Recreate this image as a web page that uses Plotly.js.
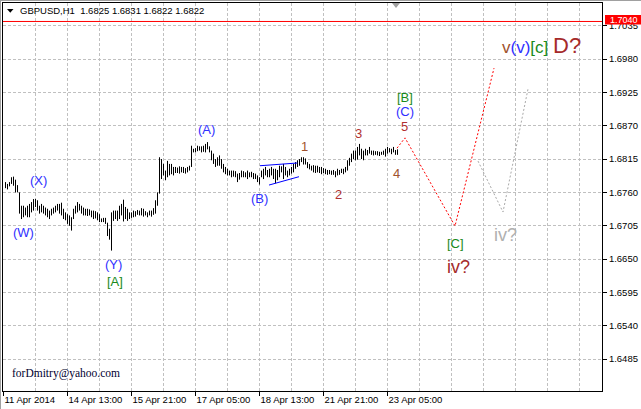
<!DOCTYPE html>
<html><head><meta charset="utf-8">
<script src="https://cdn.plot.ly/plotly-3.0.1.min.js"></script>
<style>html,body{margin:0;padding:0;background:#fff;overflow:hidden}#chart{width:641px;height:409px}</style>
</head><body><div id="chart"></div>
<script>
// ---- data (bar index = hourly bar counted from 11 Apr 2014 05:00, weekends skipped) ----
const firstBar = 1;
const barHigh = [
1.6777,1.6774,1.6777,1.6785,1.6786,1.6781,1.6772,1.6760,1.6738,1.6738,
1.6735,1.6738,1.6741,1.6744,1.6749,1.6749,1.6747,1.6738,1.6741,1.6738,
1.6735,1.6733,1.6730,1.6733,1.6735,1.6738,1.6741,1.6741,1.6743,1.6733,
1.6727,1.6724,1.6722,1.6719,1.6733,1.6738,1.6744,1.6741,1.6738,1.6735,
1.6733,1.6733,1.6732,1.6730,1.6730,1.6729,1.6727,1.6724,1.6717,1.6718,
1.6718,1.6710,1.6700,1.6727,1.6730,1.6730,1.6730,1.6738,1.6741,1.6748,
1.6736,1.6733,1.6727,1.6727,1.6730,1.6729,1.6731,1.6730,1.6734,1.6733,
1.6729,1.6727,1.6730,1.6730,1.6734,1.6747,1.6760,1.6818,1.6815,1.6807,
1.6796,1.6812,1.6807,1.6807,1.6802,1.6802,1.6801,1.6803,1.6802,1.6802,
1.6800,1.6802,1.6804,1.6837,1.6832,1.6833,1.6837,1.6836,1.6836,1.6837,
1.6840,1.6843,1.6836,1.6829,1.6824,1.6815,1.6818,1.6821,1.6815,1.6807,
1.6802,1.6799,1.6796,1.6796,1.6796,1.6795,1.6791,1.6792,1.6796,1.6795,
1.6793,1.6796,1.6793,1.6794,1.6792,1.6791,1.6788,1.6785,1.6796,1.6799,
1.6802,1.6797,1.6799,1.6802,1.6799,1.6799,1.6797,1.6804,1.6803,1.6807,
1.6802,1.6796,1.6799,1.6802,1.6807,1.6810,1.6813,1.6815,1.6818,1.6818,
1.6816,1.6810,1.6807,1.6804,1.6805,1.6804,1.6804,1.6802,1.6802,1.6800,
1.6799,1.6797,1.6797,1.6796,1.6797,1.6795,1.6799,1.6797,1.6799,1.6799,
1.6802,1.6813,1.6817,1.6824,1.6829,1.6829,1.6835,1.6840,1.6832,1.6829,
1.6832,1.6830,1.6835,1.6829,1.6829,1.6828,1.6828,1.6827,1.6827,1.6829,
1.6832,1.6835,1.6833,1.6832,1.6835,1.6830,1.6831];
const barLow = [
1.6767,1.6765,1.6770,1.6774,1.6771,1.6760,1.6760,1.6725,1.6716,1.6719,
1.6722,1.6719,1.6719,1.6727,1.6730,1.6736,1.6730,1.6725,1.6727,1.6725,
1.6722,1.6719,1.6716,1.6722,1.6725,1.6727,1.6730,1.6725,1.6722,1.6716,
1.6714,1.6708,1.6705,1.6697,1.6716,1.6725,1.6727,1.6730,1.6725,1.6722,
1.6722,1.6721,1.6722,1.6719,1.6716,1.6717,1.6714,1.6711,1.6711,1.6711,
1.6708,1.6688,1.6682,1.6664,1.6713,1.6716,1.6713,1.6716,1.6722,1.6712,
1.6716,1.6713,1.6716,1.6718,1.6719,1.6720,1.6723,1.6722,1.6722,1.6720,
1.6722,1.6719,1.6722,1.6720,1.6723,1.6725,1.6738,1.6758,1.6782,1.6788,
1.6780,1.6785,1.6788,1.6790,1.6788,1.6792,1.6792,1.6791,1.6793,1.6792,
1.6791,1.6793,1.6796,1.6802,1.6826,1.6826,1.6828,1.6829,1.6826,1.6827,
1.6826,1.6831,1.6826,1.6813,1.6807,1.6802,1.6804,1.6804,1.6799,1.6793,
1.6790,1.6788,1.6788,1.6785,1.6786,1.6785,1.6777,1.6781,1.6785,1.6785,
1.6785,1.6782,1.6785,1.6785,1.6782,1.6782,1.6777,1.6773,1.6785,1.6782,
1.6788,1.6785,1.6785,1.6788,1.6782,1.6775,1.6780,1.6785,1.6793,1.6782,
1.6788,1.6785,1.6788,1.6791,1.6793,1.6799,1.6802,1.6804,1.6810,1.6806,
1.6806,1.6800,1.6798,1.6796,1.6793,1.6792,1.6793,1.6792,1.6790,1.6792,
1.6790,1.6789,1.6790,1.6789,1.6789,1.6785,1.6788,1.6789,1.6792,1.6790,
1.6793,1.6796,1.6804,1.6810,1.6815,1.6813,1.6814,1.6821,1.6815,1.6813,
1.6821,1.6821,1.6824,1.6822,1.6821,1.6822,1.6821,1.6820,1.6822,1.6822,
1.6819,1.6824,1.6826,1.6823,1.6826,1.6822,1.6822];

const dateTickIndex = [0, 32, 64, 96, 128, 160, 192];
const dateTickLabels = ['11 Apr 2014','14 Apr 13:00','15 Apr 21:00','17 Apr 05:00','18 Apr 13:00','21 Apr 21:00','23 Apr 05:00'];
const priceTicks = [1.6485,1.6540,1.6595,1.6650,1.6705,1.6760,1.6815,1.6870,1.6925,1.6980,1.7035];

const headerText = 'GBPUSD,H1\u00a0\u00a01.6825 1.6831 1.6822 1.6822';
const alertLevel = 1.7042;
const alertLabel = '1.7040';
const watermark = 'forDmitry@yahoo.com';

// projected wave paths
const redPathX = [196.75, 200.75, 225.75, 245.25];
const redPathY = [1.6833, 1.6850, 1.67045, 1.6965];
const grayPathX = [237.25, 249.75, 262.25];
const grayPathY = [1.68117, 1.67276, 1.69306];
// triangle trend lines
const triUpperX = [128.25, 146.9];
const triUpperY = [1.6804, 1.68085];
const triLowerX = [132.75, 147.75];
const triLowerY = [1.67721, 1.67859];

// wave labels
const waveText  = ['(W)','(X)','(Y)','[A]','(A)','(B)','1','2','3','4','5','(C)','[B]','[C]','iv?','iv?'];
const waveX     = [9.75, 17.25, 54.75, 55.75, 101.25, 127.75, 150.25, 167.25, 177.25, 196.25, 200.25, 200.75, 200.75, 225.75, 227.25, 250.75];
const waveY     = [1.66946,1.67804,1.66418,1.66138,1.68646,1.67507,1.68365,1.67573,1.68579,1.67920,1.68695,1.68943,1.69174,1.66765,1.66369,1.66897];
const waveColor = ['#3030ff','#3030ff','#3030ff','#1a8a1a','#3030ff','#3030ff','#a0522d','#b03030','#b03030','#a0522d','#b03030','#3030ff','#1a8a1a','#1a8a1a','#a52a2a','#b0b0b0'];
const waveSize  = [13,13,13,13,13,13,13,13,13,13,13,13,13,13,18,18];
const targetLabel = {x: 269, y: 1.70032};

// ---- build ----
const bx = [], by = [];
for (let i = 0; i < barHigh.length; i++) {
  const x = firstBar + i;
  bx.push(x, x, null);
  by.push(barLow[i], barHigh[i], null);
}
const traces = [
  {type:'scatter', mode:'lines', x:bx, y:by, line:{color:'#000', width:1}, hoverinfo:'skip', showlegend:false},
  {type:'scatter', mode:'lines', x:triUpperX, y:triUpperY, line:{color:'#0000ff', width:1}, hoverinfo:'skip', showlegend:false},
  {type:'scatter', mode:'lines', x:triLowerX, y:triLowerY, line:{color:'#0000ff', width:1}, hoverinfo:'skip', showlegend:false},
  {type:'scatter', mode:'lines', x:redPathX, y:redPathY, line:{color:'#ff0000', width:1, dash:'2px,2px'}, hoverinfo:'skip', showlegend:false},
  {type:'scatter', mode:'lines', x:grayPathX, y:grayPathY, line:{color:'#a9a9a9', width:1, dash:'2px,2px'}, hoverinfo:'skip', showlegend:false}
];

const W = 599, H = 388, L = 3, T = 3;
const px = v => (v - L) / W;
const py = v => 1 - (v - T) / H;

const ann = [];
for (let i = 0; i < waveText.length; i++) {
  ann.push({x: waveX[i], y: waveY[i], xref:'x', yref:'y', text: waveText[i], showarrow:false,
    xanchor:'center', yanchor:'middle', font:{family:'Liberation Sans, Arial, sans-serif', size: waveSize[i], color: waveColor[i]}});
}
ann.push({x: targetLabel.x, y: targetLabel.y, xref:'x', yref:'y', showarrow:false, xanchor:'center', yanchor:'middle',
  text: '<span style="color:#a0522d">v</span><span style="color:#3030ff">(v)</span><span style="color:#1a8a1a">[c]</span> <span style="color:#a52a2a;font-size:22px">D?</span>',
  font:{family:'Liberation Sans, Arial, sans-serif', size:17, color:'#a52a2a'}});
ann.push({x: px(18), y: py(10), xref:'paper', yref:'paper', text: headerText, showarrow:false, xanchor:'left', yanchor:'middle',
  font:{family:'Liberation Sans, Arial, sans-serif', size:9.5, color:'#000'}});
ann.push({x: px(10), y: py(373), xref:'paper', yref:'paper', text: watermark, showarrow:false, xanchor:'left', yanchor:'middle',
  font:{family:'Liberation Serif, Times New Roman, serif', size:11.5, color:'#000030'}});
ann.push({x: px(623.5), y: py(19.6), xref:'paper', yref:'paper', text: alertLabel, showarrow:false, xanchor:'center', yanchor:'middle',
  font:{family:'Liberation Sans, Arial, sans-serif', size:9, color:'#ffffff'}});

const shapes = [
  {type:'line', xref:'paper', yref:'y', x0:0, x1:1, y0:alertLevel, y1:alertLevel, line:{color:'#ff0000', width:1}},
  {type:'rect', xref:'paper', yref:'paper', x0:px(605), x1:px(641), y0:py(24.5), y1:py(15), fillcolor:'#ff0000', line:{width:0}, layer:'above'},
  {type:'path', xref:'paper', yref:'paper', path:`M ${px(7)} ${py(9)} L ${px(13.5)} ${py(9)} L ${px(10.25)} ${py(12.8)} Z`, fillcolor:'#000', line:{width:0}},
  {type:'path', xref:'paper', yref:'paper', path:`M ${px(392)} ${py(3)} L ${px(400)} ${py(3)} L ${px(396)} ${py(8)} Z`, fillcolor:'#a0a0a0', line:{width:0}},
  {type:'line', xref:'paper', yref:'paper', x0:px(0), x1:px(641), y0:py(0.5), y1:py(0.5), line:{color:'#a0a0a0', width:1}},
  {type:'line', xref:'paper', yref:'paper', x0:px(0.5), x1:px(0.5), y0:py(0), y1:py(409), line:{color:'#a0a0a0', width:1}}
];

const layout = {
  width:641, height:409, margin:{l:L, r:641-L-W, t:T, b:409-T-H, pad:0},
  paper_bgcolor:'#fff', plot_bgcolor:'#fff', showlegend:false,
  xaxis:{range:[-0.25, 299.25], tickmode:'array', tickvals:dateTickIndex, ticktext:dateTickLabels,
    ticks:'outside', ticklen:4, tickcolor:'#000', ticklabelposition:'outside right',
    showgrid:true, gridcolor:'#c0c0c0', griddash:'3px,2px', gridwidth:1,
    minor:{tick0:0, dtick:16, showgrid:true, gridcolor:'#c0c0c0', griddash:'3px,2px', ticks:''},
    showline:true, mirror:true, linecolor:'#000', linewidth:1, zeroline:false, fixedrange:true,
    tickfont:{family:'Liberation Sans, Arial, sans-serif', size:9.5, color:'#000'}},
  yaxis:{range:[1.64323, 1.70725], side:'right', tickmode:'array', tickvals:priceTicks, ticktext:priceTicks.map(v=>v.toFixed(4)),
    ticks:'outside', ticklen:4, tickcolor:'#000',
    showgrid:true, gridcolor:'#c0c0c0', griddash:'3px,2px', gridwidth:1,
    showline:true, mirror:true, linecolor:'#000', linewidth:1, zeroline:false, fixedrange:true,
    tickfont:{family:'Liberation Sans, Arial, sans-serif', size:9.5, color:'#000'}},
  annotations: ann, shapes: shapes
};
Plotly.newPlot('chart', traces, layout, {staticPlot:true, displayModeBar:false});
</script></body></html>
